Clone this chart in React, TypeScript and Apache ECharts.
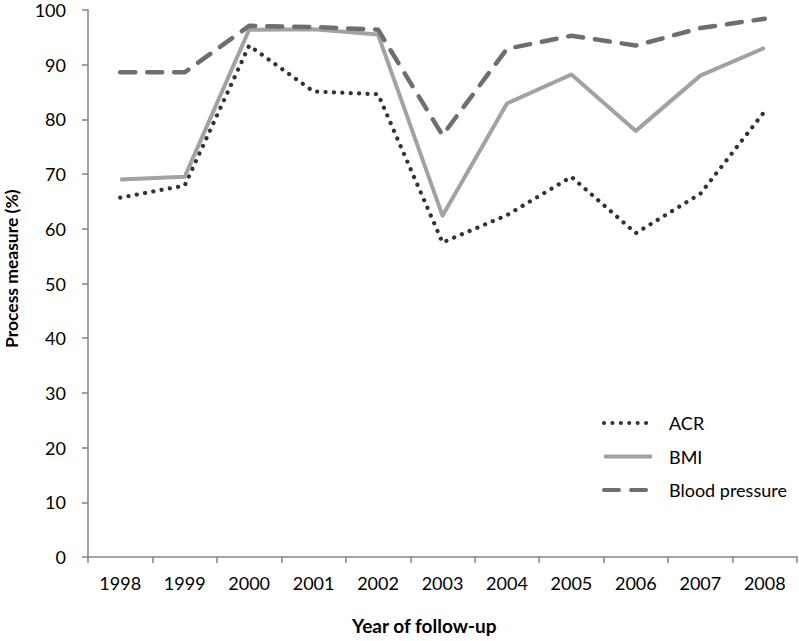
import React, { useEffect, useRef } from "react";
import * as echarts from "echarts";

const years = ["1998", "1999", "2000", "2001", "2002", "2003", "2004", "2005", "2006", "2007", "2008"];
const acr = [65.7, 67.9, 93.5, 85.1, 84.6, 57.5, 62.5, 69.5, 59.2, 66.4, 81.5];
const bmi = [69.0, 69.5, 96.4, 96.5, 95.5, 62.4, 82.9, 88.2, 77.9, 88.0, 93.1];
const bloodPressure = [88.6, 88.6, 97.1, 96.9, 96.4, 77.1, 92.9, 95.3, 93.5, 96.7, 98.4];
const yTicks = { min: 0, max: 100, interval: 10 };

const FONT = "Lato, 'Open Sans', sans-serif";

export default function App() {
  const ref = useRef<HTMLDivElement>(null);
  useEffect(() => {
    if (!ref.current) return;
    const chart = echarts.init(ref.current, undefined, { renderer: "svg" });
    const axisColor = "#858585";
    chart.setOption({
      animation: false,
      backgroundColor: "#ffffff",
      grid: { left: 88, right: 2, top: 10, bottom: 84, containLabel: false },
      xAxis: {
        type: "category",
        data: years,
        boundaryGap: true,
        axisLine: { show: true, lineStyle: { color: axisColor, width: 1.5 } },
        axisTick: { show: true, length: 6, lineStyle: { color: axisColor, width: 1.5 } },
        axisLabel: { color: "#000", fontFamily: FONT, fontSize: 18, margin: 17 },
        splitLine: { show: false },
      },
      yAxis: {
        type: "value",
        min: yTicks.min,
        max: yTicks.max,
        interval: yTicks.interval,
        axisLine: { show: true, lineStyle: { color: axisColor, width: 1.5 } },
        axisTick: { show: true, length: 6, lineStyle: { color: axisColor, width: 1.5 } },
        axisLabel: { color: "#000", fontFamily: FONT, fontSize: 18, lineHeight: 18, margin: 22 },
        splitLine: { show: false },
      },
      legend: {
        orient: "vertical",
        left: 597,
        top: 409,
        itemWidth: 48,
        itemHeight: 14,
        itemGap: 15.5,
        itemStyle: { opacity: 0 },
        lineStyle: { width: 4 },
        textStyle: { color: "#000", fontFamily: FONT, fontSize: 18, padding: [0, 0, 0, 12] },
        data: ["ACR", "BMI", "Blood pressure"],
      },
      graphic: [
        {
          type: "text",
          left: 352,
          top: 616,
          style: { text: "Year of follow-up", fontFamily: FONT, fontSize: 19, fontWeight: "bold", fill: "#000" },
        },
        {
          type: "text",
          x: 2,
          y: 348,
          rotation: Math.PI / 2,
          style: { text: "Process measure (%)", fontFamily: FONT, fontSize: 17.5, fontWeight: "bold", fill: "#000" },
        },
      ],
      series: [
        {
          name: "ACR",
          type: "line",
          data: acr,
          symbol: "none",
          lineStyle: { color: "#333333", width: 4.2, type: [0.1, 8.3], cap: "round", join: "round" },
          itemStyle: { color: "#333333" },
        },
        {
          name: "BMI",
          type: "line",
          data: bmi,
          symbol: "none",
          lineStyle: { color: "#a2a2a2", width: 4, type: "solid", join: "round" },
          itemStyle: { color: "#a2a2a2" },
        },
        {
          name: "Blood pressure",
          type: "line",
          data: bloodPressure,
          symbol: "none",
          lineStyle: { color: "#6e6e6e", width: 4.5, type: [15, 12], cap: "round", join: "round" },
          itemStyle: { color: "#6e6e6e" },
        },
      ],
    });
    return () => chart.dispose();
  }, []);
  return <div ref={ref} style={{ width: 799, height: 641, position: "absolute", left: 0, top: 0 }} />;
}
